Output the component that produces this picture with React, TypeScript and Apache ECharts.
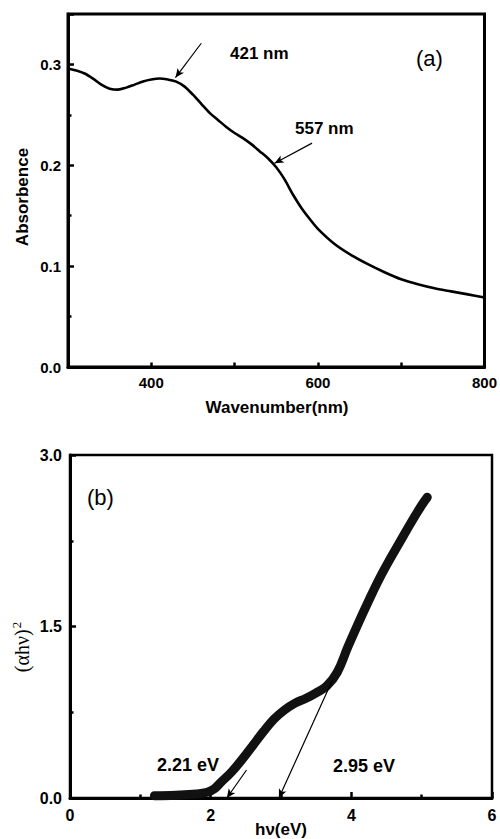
import React, { useEffect, useRef } from "react";
import * as echarts from "echarts";

// Panel (a): absorbance spectrum
const wavelengths = [300, 310, 320, 330, 340, 350, 360, 370, 380, 390, 400, 410, 420, 430, 440, 450, 460, 470, 480, 490, 500, 510, 520, 530, 540, 550, 560, 570, 580, 590, 600, 620, 640, 660, 680, 700, 720, 740, 760, 780, 800];
const absorbance = [0.296, 0.294, 0.291, 0.286, 0.28, 0.276, 0.275, 0.277, 0.28, 0.283, 0.285, 0.286, 0.285, 0.283, 0.278, 0.27, 0.261, 0.252, 0.245, 0.238, 0.232, 0.227, 0.221, 0.214, 0.207, 0.198, 0.186, 0.171, 0.158, 0.147, 0.137, 0.122, 0.111, 0.102, 0.094, 0.087, 0.082, 0.078, 0.075, 0.072, 0.069];
const xLabelsA = [400, 600, 800];
const yLabelsA = [0, 0.1, 0.2, 0.3];
const arrow421 = [[460, 0.321], [429, 0.287]];
const arrow557 = [[593, 0.222], [548, 0.202]];

// Panel (b): Tauc plot
const energy = [1.2, 1.5, 1.8, 1.95, 2.05, 2.15, 2.3, 2.45, 2.6, 2.75, 2.9, 3.05, 3.2, 3.35, 3.5, 3.65, 3.8, 3.95, 4.1, 4.25, 4.4, 4.55, 4.7, 4.85, 5.0, 5.08];
const tauc = [0.02, 0.025, 0.035, 0.05, 0.08, 0.14, 0.23, 0.34, 0.46, 0.58, 0.69, 0.77, 0.83, 0.87, 0.92, 0.98, 1.1, 1.32, 1.53, 1.73, 1.92, 2.09, 2.25, 2.41, 2.56, 2.63];
const xLabelsB = [0, 2, 4, 6];
const yLabelsB = [0, 1.5, 3];
const tangent221 = [[2.51, 0.245], [2.23, 0.0]];
const tangent295 = [[3.73, 1.03], [2.97, 0.0]];

const FONT = "'Liberation Sans', Arial, sans-serif";

const near = (list: number[], v: number) => list.some((t) => Math.abs(t - v) < 1e-6);

export default function App() {
  const ref = useRef<HTMLDivElement>(null);
  useEffect(() => {
    if (!ref.current) return;
    const chart = echarts.init(ref.current, null, { renderer: "svg" });
    const labelStyle = { color: "#000", fontFamily: FONT, fontWeight: "bold" as const };
    const axis = (gridIndex: number, min: number, max: number, interval: number, minor: boolean, labels: number[], size: number, margin: number, digits: number, tickLen: number) => ({
      type: "value", gridIndex, min, max, interval,
      axisLine: { show: true, onZero: false, lineStyle: { color: "#000", width: 3 } },
      axisTick: { show: true, inside: true, length: tickLen, lineStyle: { color: "#000", width: 2.5 } },
      minorTick: { show: minor, splitNumber: 2, length: 3.5, lineStyle: { color: "#000", width: 2.5 } },
      axisLabel: {
        show: true, margin, fontSize: size, showMinLabel: true, showMaxLabel: true,
        formatter: (v: number) => (near(labels, v) ? v.toFixed(digits) : ""),
        ...labelStyle,
      },
      splitLine: { show: false },
      minorSplitLine: { show: false },
    });
    const arrowLine = (pts: number[][]) => ({
      silent: true,
      symbol: ["none", "arrow"],
      symbolSize: [6, 9],
      label: { show: false },
      lineStyle: { color: "#000", width: 1.2, type: "solid" },
      data: [[{ coord: pts[0] }, { coord: pts[1] }]],
    });

    chart.setOption({
      animation: false,
      backgroundColor: "#fff",
      grid: [
        { left: 68, top: 14, right: 13, height: 353, show: true, borderColor: "#000", borderWidth: 3, backgroundColor: "transparent" },
        { left: 70, top: 455, right: 8, height: 343, show: true, borderColor: "#000", borderWidth: 2.5, backgroundColor: "transparent" },
      ],
      xAxis: [
        axis(0, 300, 800, 100, false, xLabelsA, 15, 8, 0, 4.5),
        axis(1, 0, 6, 2, true, xLabelsB, 16, 9, 0, 6),
      ],
      yAxis: [
        axis(0, 0, 0.35, 0.1, true, yLabelsA, 15, 7, 1, 6),
        axis(1, 0, 3, 1.5, true, yLabelsB, 16, 8, 1, 6),
      ],
      series: [
        {
          type: "line", xAxisIndex: 0, yAxisIndex: 0,
          data: wavelengths.map((w, i) => [w, absorbance[i]]),
          smooth: 0.3, showSymbol: false, symbol: "none",
          lineStyle: { color: "#000", width: 2.6 },
          markLine: { ...arrowLine(arrow421) },
        },
        {
          type: "line", xAxisIndex: 0, yAxisIndex: 0,
          data: [], showSymbol: false,
          markLine: { ...arrowLine(arrow557) },
        },
        {
          type: "line", xAxisIndex: 1, yAxisIndex: 1,
          data: energy.map((e, i) => [e, tauc[i]]),
          smooth: 0.4, showSymbol: false, symbol: "none",
          lineStyle: { color: "#111", width: 9, cap: "round", join: "round" },
        },
        {
          type: "line", xAxisIndex: 1, yAxisIndex: 1,
          data: [], showSymbol: false,
          markLine: { ...arrowLine(tangent221) },
        },
        {
          type: "line", xAxisIndex: 1, yAxisIndex: 1,
          data: [], showSymbol: false,
          markLine: { ...arrowLine(tangent295) },
        },
      ],
      graphic: [
        { type: "text", x: 230, y: 53, style: { text: "421 nm", font: `bold 17px ${FONT}`, fill: "#000", verticalAlign: "middle" } },
        { type: "text", x: 295, y: 128, style: { text: "557 nm", font: `bold 17px ${FONT}`, fill: "#000", verticalAlign: "middle" } },
        { type: "text", x: 416, y: 58, style: { text: "(a)", font: `22px ${FONT}`, fill: "#000", verticalAlign: "middle" } },
        { type: "text", x: 87, y: 497, style: { text: "(b)", font: `22px ${FONT}`, fill: "#000", verticalAlign: "middle" } },
        { type: "text", x: 157, y: 765, style: { text: "2.21 eV", font: `bold 18px ${FONT}`, fill: "#000", verticalAlign: "middle" } },
        { type: "text", x: 333, y: 766, style: { text: "2.95 eV", font: `bold 18px ${FONT}`, fill: "#000", verticalAlign: "middle" } },
        { type: "text", x: 277, y: 407, style: { text: "Wavenumber(nm)", font: `bold 17px ${FONT}`, fill: "#000", align: "center", verticalAlign: "middle" } },
        { type: "text", x: 281, y: 829, style: { text: "hν(eV)", font: `bold 17px ${FONT}`, fill: "#000", align: "center", verticalAlign: "middle" } },
        { type: "text", x: 22, y: 197, rotation: Math.PI / 2, style: { text: "Absorbence", font: `bold 17px ${FONT}`, fill: "#000", align: "center", verticalAlign: "middle" } },
        {
          type: "text", x: 22, y: 647, rotation: Math.PI / 2,
          style: {
            text: "{m|(αhν)}{s|2}",
            fill: "#000", align: "center", verticalAlign: "middle",
            rich: {
              m: { fontSize: 20, fontFamily: "'Liberation Serif', 'DejaVu Serif', serif", fill: "#000" },
              s: { fontSize: 13, fontFamily: "'Liberation Serif', 'DejaVu Serif', serif", fill: "#000", padding: [0, 0, 12, 1] },
            },
          },
        },
      ],
    });
    return () => chart.dispose();
  }, []);
  return <div ref={ref} style={{ position: "absolute", left: 0, top: 0, width: 500, height: 839 }} />;
}
